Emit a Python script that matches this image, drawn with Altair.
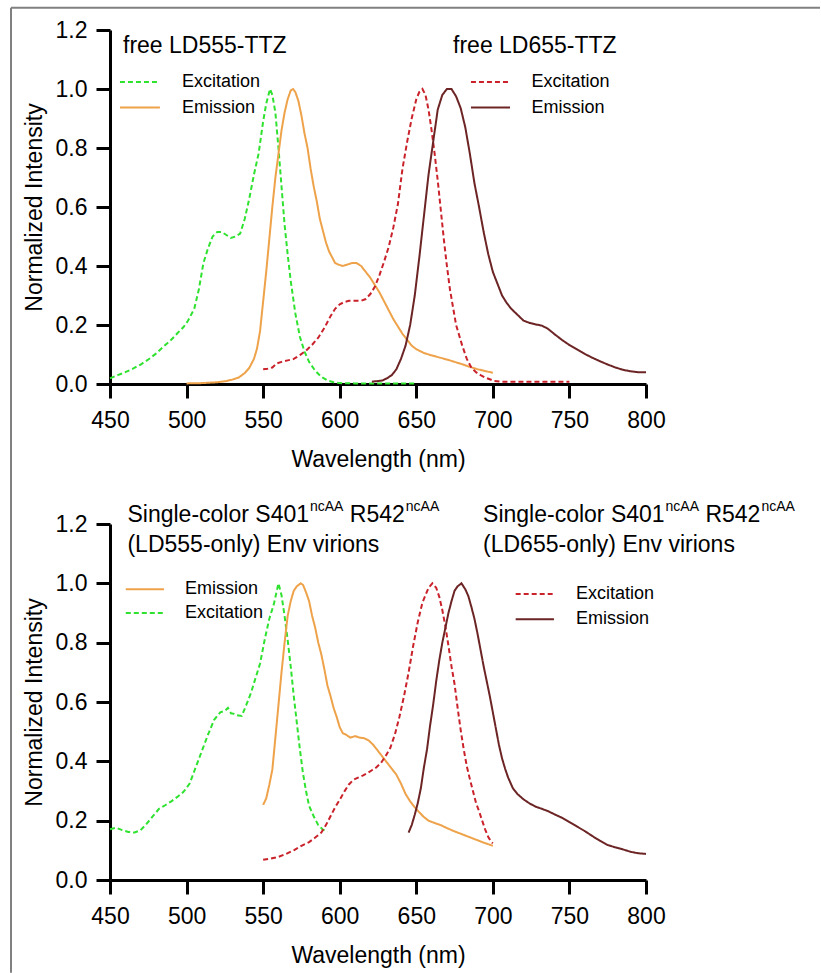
import altair as alt
import pandas as pd

FONT = "Liberation Sans"

# ---- free dyes (upper panel) ----
free555_ex_nm = [450, 455, 460, 465, 470, 475, 480, 485, 490, 494, 498, 501, 505, 508, 511, 514,
                 517, 520, 523, 526, 529, 532, 535, 538, 541, 544, 547, 550, 552, 554.5, 556, 558,
                 560, 562, 564, 566, 568, 571, 574, 577, 580, 584, 588, 592, 596, 600, 610, 620,
                 630, 640, 650]
free555_ex_val = [0.019, 0.03, 0.04, 0.052, 0.066, 0.083, 0.103, 0.127, 0.15, 0.172, 0.193, 0.215,
                  0.255, 0.32, 0.41, 0.46, 0.50, 0.515, 0.515, 0.505, 0.495, 0.50, 0.51, 0.56, 0.63,
                  0.71, 0.78, 0.89, 0.95, 1.0, 0.98, 0.92, 0.80, 0.67, 0.54, 0.44, 0.35, 0.24, 0.16,
                  0.11, 0.075, 0.045, 0.024, 0.012, 0.006, 0.003, 0.002, 0.002, 0.002, 0.002, 0.002]

free555_em_nm = [500, 510, 520, 526, 530, 534, 538, 541, 544, 546, 548, 550, 552, 554, 556, 558,
                 560, 562, 564, 566, 568, 569.5, 571, 573, 575, 577, 579, 581, 583, 585, 587, 589,
                 591, 593, 595, 597, 599, 602, 605, 608, 611, 614, 617, 620, 623, 626, 629, 632,
                 635, 638, 641, 644, 647, 650, 655, 660, 665, 670, 675, 680, 685, 690, 695, 700]
free555_em_val = [0.002, 0.003, 0.006, 0.01, 0.015, 0.022, 0.037, 0.055, 0.085, 0.12, 0.18, 0.28,
                  0.38, 0.49, 0.60, 0.70, 0.78, 0.86, 0.92, 0.965, 0.995, 1.0, 0.99, 0.96, 0.91,
                  0.85, 0.80, 0.73, 0.67, 0.62, 0.56, 0.52, 0.48, 0.45, 0.43, 0.41, 0.405, 0.40,
                  0.405, 0.41, 0.41, 0.40, 0.38, 0.36, 0.335, 0.31, 0.28, 0.25, 0.22, 0.195, 0.17,
                  0.15, 0.13, 0.118, 0.105, 0.097, 0.09, 0.083, 0.075, 0.067, 0.058, 0.05, 0.044,
                  0.038]

free655_ex_nm = [550, 553, 556, 559, 562, 566, 570, 574, 578, 582, 586, 590, 594, 597, 600, 603,
                 606, 610, 614, 617, 620, 623, 626, 629, 632, 635, 638, 641, 644, 647, 650, 652,
                 654, 656, 658, 660, 662, 664, 666, 668, 670, 672, 674, 676, 678, 680, 683, 686,
                 689, 692, 695, 698, 701, 705, 710, 720, 730, 740, 750]
free655_ex_val = [0.05, 0.052, 0.056, 0.07, 0.075, 0.08, 0.085, 0.098, 0.113, 0.133, 0.157, 0.19,
                  0.23, 0.255, 0.27, 0.278, 0.282, 0.282, 0.282, 0.288, 0.305, 0.33, 0.37, 0.415,
                  0.465, 0.53, 0.61, 0.73, 0.82, 0.90, 0.965, 0.99, 1.0, 0.98, 0.93, 0.86, 0.78,
                  0.69, 0.59, 0.49, 0.40, 0.32, 0.26, 0.20, 0.165, 0.13, 0.085, 0.055, 0.04, 0.03,
                  0.022, 0.016, 0.01, 0.008, 0.008, 0.008, 0.008, 0.008, 0.008]

free655_em_nm = [621, 625, 628, 631, 634, 637, 640, 643, 646, 649, 652, 655, 658, 661, 664, 667,
                 670, 673, 676, 679, 682, 685, 688, 691, 694, 697, 700, 703, 706, 709, 712, 716,
                 720, 724, 728, 732, 736, 740, 745, 750, 755, 760, 765, 770, 775, 780, 785, 790,
                 795, 800]
free655_em_val = [0.008, 0.01, 0.012, 0.02, 0.03, 0.05, 0.085, 0.13, 0.2, 0.3, 0.43, 0.57, 0.71,
                  0.82, 0.93, 0.98, 1.0, 1.0, 0.975, 0.935, 0.87, 0.78, 0.68, 0.60, 0.515, 0.44,
                  0.38, 0.34, 0.30, 0.275, 0.255, 0.235, 0.215, 0.207, 0.202, 0.198, 0.187, 0.17,
                  0.15, 0.132, 0.117, 0.102, 0.089, 0.077, 0.066, 0.056, 0.048, 0.043, 0.04, 0.04]

# ---- single-color Env virions (lower panel) ----
vir555_ex_nm = [450, 454, 458, 462, 466, 470, 474, 478, 482, 486, 490, 494, 498, 502, 506, 510,
                514, 518, 522, 525, 527, 529, 531, 533, 536, 539, 542, 545, 548, 551, 554, 557,
                560, 562, 564, 566, 568, 570, 572, 574, 576, 578, 580, 583, 586, 589, 592]
vir555_ex_val = [0.171, 0.176, 0.168, 0.162, 0.16, 0.168, 0.19, 0.215, 0.24, 0.252, 0.265, 0.28,
                 0.297, 0.325, 0.38, 0.435, 0.49, 0.54, 0.565, 0.57, 0.58, 0.562, 0.56, 0.555,
                 0.553, 0.59, 0.63, 0.68, 0.73, 0.81, 0.88, 0.93, 1.0, 0.96, 0.89, 0.81, 0.72,
                 0.62, 0.53, 0.44, 0.36, 0.30, 0.25, 0.215, 0.185, 0.17, 0.163]

vir555_em_nm = [550, 552, 554, 556, 558, 560, 562, 564, 566, 568, 570, 572, 574.5, 576, 578, 580,
                582, 584, 586, 588, 590, 592, 594, 596, 598, 600, 602, 604, 607, 610, 613, 616,
                619, 622, 625, 628, 631, 634, 637, 640, 643, 646, 649, 652, 655, 658, 662, 666,
                670, 674, 678, 682, 686, 690, 694, 698, 700]
vir555_em_val = [0.253, 0.275, 0.32, 0.372, 0.48, 0.59, 0.70, 0.80, 0.89, 0.94, 0.975, 0.99, 1.0,
                 0.995, 0.97, 0.94, 0.89, 0.85, 0.80, 0.76, 0.71, 0.655, 0.62, 0.58, 0.55, 0.515,
                 0.495, 0.49, 0.48, 0.485, 0.48, 0.478, 0.47, 0.455, 0.435, 0.415, 0.395, 0.375,
                 0.355, 0.325, 0.29, 0.265, 0.245, 0.228, 0.212, 0.20, 0.192, 0.185, 0.175, 0.166,
                 0.158, 0.15, 0.142, 0.134, 0.126, 0.119, 0.115]

vir655_ex_nm = [550, 555, 560, 565, 570, 575, 580, 584, 588, 591, 594, 597, 600, 603, 606, 609,
                612, 615, 618, 621, 624, 627, 630, 633, 636, 639, 642, 645, 648, 651, 654, 656,
                658, 660.5, 663, 665, 667, 669, 671, 673, 675, 677, 679, 681, 683, 685, 687, 689,
                691, 693, 695, 697, 699, 700]
vir655_ex_val = [0.068, 0.072, 0.078, 0.088, 0.10, 0.115, 0.128, 0.143, 0.16, 0.185, 0.215, 0.245,
                 0.27, 0.298, 0.322, 0.338, 0.345, 0.352, 0.36, 0.37, 0.38, 0.395, 0.418, 0.445,
                 0.49, 0.55, 0.62, 0.70, 0.79, 0.87, 0.935, 0.96, 0.985, 1.0, 0.985, 0.955, 0.91,
                 0.855, 0.79, 0.72, 0.66, 0.58, 0.505, 0.44, 0.383, 0.34, 0.30, 0.26, 0.232, 0.20,
                 0.17, 0.145, 0.128, 0.124]

vir655_em_nm = [645, 647, 649, 651, 653, 655, 657, 659, 661, 663, 665, 667, 669, 671, 673, 675,
                677, 679.5, 682, 684, 686, 688, 690, 692, 694, 696, 698, 700, 702, 704, 706, 708,
                710, 713, 716, 720, 724, 728, 732, 736, 740, 745, 750, 755, 760, 765, 770, 775,
                780, 785, 790, 795, 800]
vir655_em_val = [0.16, 0.185, 0.22, 0.26, 0.31, 0.38, 0.44, 0.52, 0.59, 0.67, 0.74, 0.80, 0.85,
                 0.90, 0.94, 0.975, 0.99, 1.0, 0.98, 0.957, 0.92, 0.88, 0.83, 0.775, 0.72, 0.67,
                 0.62, 0.565, 0.51, 0.455, 0.41, 0.375, 0.345, 0.31, 0.29, 0.272, 0.258, 0.247,
                 0.24, 0.232, 0.222, 0.21, 0.195, 0.18, 0.165, 0.148, 0.132, 0.118, 0.11, 0.103,
                 0.095, 0.09, 0.088]

SERIES = ["LD555 Excitation", "LD555 Emission", "LD655 Excitation", "LD655 Emission"]
COLORS = ["#2fe22f", "#eea24a", "#c9222a", "#6c2424"]
KINDS = ["Excitation", "Emission"]
DASHES = [[5, 3], [1, 0]]

X_TICKS = [450, 500, 550, 600, 650, 700, 750, 800]
Y_TICKS = [0.0, 0.2, 0.4, 0.6, 0.8, 1.0, 1.2]

ARIAL_ADV = {"S": 667, "i": 222, "n": 556, "g": 556, "l": 222, "e": 556, "-": 333, "c": 500,
             "o": 556, "r": 333, " ": 278, "0": 556, "1": 556, "2": 556, "4": 556, "5": 556,
             "R": 722, "A": 667}


def text_width(s, size):
    return sum(ARIAL_ADV[ch] for ch in s) / 1000 * size


def curves_frame(parts):
    rows = []
    for series, nm, val in parts:
        kind = series.split(" ")[1]
        for a, b in zip(nm, val):
            rows.append({"series": series, "kind": kind, "nm": a, "val": b})
    return pd.DataFrame(rows)


AXIS_STYLE = dict(
    grid=False, domainColor="black", domainWidth=3, tickColor="black", tickWidth=3,
    tickSize=14, labelFont=FONT, labelFontSize=23, labelColor="black", labelFlush=False,
    titleFont=FONT, titleFontSize=23, titleFontWeight="normal", titleColor="black",
)


def x_enc(field="nm"):
    return alt.X(f"{field}:Q",
                 scale=alt.Scale(domain=[450, 800], nice=False, zero=False),
                 axis=alt.Axis(values=X_TICKS, title="Wavelength (nm)",
                               labelPadding=11, titlePadding=16, **AXIS_STYLE))


def y_enc(field="val"):
    return alt.Y(f"{field}:Q",
                 scale=alt.Scale(domain=[0, 1.2], nice=False),
                 axis=alt.Axis(values=Y_TICKS, format=".1f", title="Normalized Intensity",
                               labelPadding=9, titlePadding=9, **AXIS_STYLE))


color_enc = alt.Color("series:N", scale=alt.Scale(domain=SERIES, range=COLORS), legend=None)
dash_enc = alt.StrokeDash("kind:N", scale=alt.Scale(domain=KINDS, range=DASHES), legend=None)


def legend_layers(entries, line_from, line_to, text_at):
    """entries: list of (series, y)"""
    df = pd.DataFrame({
        "series": [s for s, _ in entries],
        "kind": [s.split(" ")[1] for s, _ in entries],
        "val": [y for _, y in entries],
    })
    df["nm"] = line_from
    df["nm2"] = line_to
    df["tx"] = text_at
    rules = alt.Chart(df).mark_rule(strokeWidth=2).encode(
        x=x_enc("nm"), x2="nm2:Q", y=y_enc("val"), color=color_enc, strokeDash=dash_enc)
    labels = alt.Chart(df).mark_text(
        align="left", baseline="middle", font=FONT, fontSize=18, color="black"
    ).encode(x=x_enc("tx"), y=y_enc("val"), text="kind:N")
    return [rules, labels]


def text_piece(nm, val, text, size, dx=0, dy=0):
    df = pd.DataFrame({"nm": [nm], "val": [val], "label": [text]})
    return alt.Chart(df).mark_text(
        align="left", baseline="alphabetic", font=FONT, fontSize=size, color="black",
        dx=dx, dy=dy
    ).encode(x=x_enc(), y=y_enc(), text="label:N")


def env_title(nm, val1, val2, name):
    main, sup, gap = 23, 14, -11
    first = "Single-color S401"
    d2 = text_width(first, main) + 1
    d3 = d2 + text_width("ncAA", sup) + text_width(" ", main)
    d4 = d3 + text_width("R542", main) + 1
    return [
        text_piece(nm, val1, first, main),
        text_piece(nm, val1, "ncAA", sup, dx=d2, dy=gap),
        text_piece(nm, val1, "R542", main, dx=d3),
        text_piece(nm, val1, "ncAA", sup, dx=d4, dy=gap),
        text_piece(nm, val2, f"({name}-only) Env virions", main),
    ]


def lines_layer(df):
    return alt.Chart(df).mark_line(strokeWidth=2).encode(
        x=x_enc(), y=y_enc(), color=color_enc, strokeDash=dash_enc, detail="series:N")


top_df = curves_frame([
    ("LD555 Excitation", free555_ex_nm, free555_ex_val),
    ("LD555 Emission", free555_em_nm, free555_em_val),
    ("LD655 Excitation", free655_ex_nm, free655_ex_val),
    ("LD655 Emission", free655_em_nm, free655_em_val),
])
bottom_df = curves_frame([
    ("LD555 Excitation", vir555_ex_nm, vir555_ex_val),
    ("LD555 Emission", vir555_em_nm, vir555_em_val),
    ("LD655 Excitation", vir655_ex_nm, vir655_ex_val),
    ("LD655 Emission", vir655_em_nm, vir655_em_val),
])

# thin grey frame around the figure
frame_src = pd.DataFrame({"k": [0]})
frame = [
    alt.Chart(frame_src).mark_rule(color="#808080", strokeWidth=2).encode(
        x=alt.value(-99), x2=alt.value(710), y=alt.value(-22.3)),
    alt.Chart(frame_src).mark_rule(color="#808080", strokeWidth=2).encode(
        x=alt.value(-99), y=alt.value(-22.3), y2=alt.value(942.7)),
]

top = alt.layer(
    lines_layer(top_df),
    *legend_layers([("LD555 Excitation", 1.024), ("LD555 Emission", 0.937)], 456.5, 482.6, 497.0),
    *legend_layers([("LD655 Excitation", 1.024), ("LD655 Emission", 0.937)], 685.7, 711.2, 725.2),
    text_piece(458.5, 1.121, "free LD555-TTZ", 23),
    text_piece(674.0, 1.121, "free LD655-TTZ", 23),
    *frame,
).properties(width=536, height=354)

bottom = alt.layer(
    lines_layer(bottom_df),
    *legend_layers([("LD555 Emission", 0.98), ("LD555 Excitation", 0.90)], 460.3, 485.3, 499.0),
    *legend_layers([("LD655 Excitation", 0.964), ("LD655 Emission", 0.879)], 714.9, 739.9, 754.3),
    *env_title(461.4, 1.2076, 1.106, "LD555"),
    *env_title(693.6, 1.2076, 1.106, "LD655"),
).properties(width=536, height=356)

chart = alt.vconcat(top, bottom, spacing=140, bounds="flush").configure(
    padding={"left": 10, "top": 6, "right": 0, "bottom": 0},
    font=FONT,
).configure_view(stroke=None)

chart.save("out.html", embed_options={"renderer": "svg", "actions": False})
